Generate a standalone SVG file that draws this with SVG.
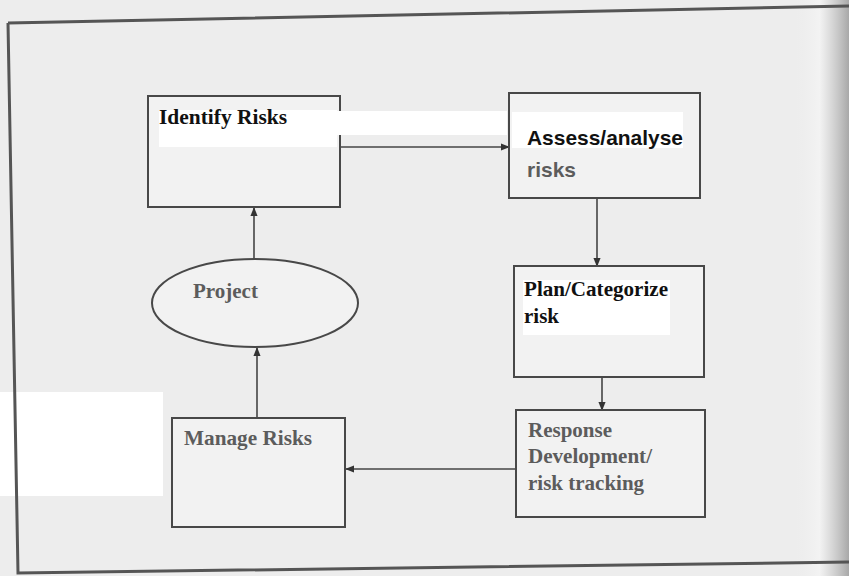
<svg xmlns="http://www.w3.org/2000/svg" width="849" height="576" viewBox="0 0 849 576">
<defs>
<linearGradient id="edge" x1="0" y1="0" x2="1" y2="0">
<stop offset="0" stop-color="#ececec" stop-opacity="0"/>
<stop offset="0.5" stop-color="#f4f4f4" stop-opacity="0.8"/>
<stop offset="1" stop-color="#a8a8a8" stop-opacity="1"/>
</linearGradient>
<marker id="ah" viewBox="0 0 10 10" refX="9" refY="5" markerWidth="9" markerHeight="9" markerUnits="userSpaceOnUse" orient="auto">
<path d="M0,1 L10,5 L0,9 Z" fill="#333"/>
</marker>
<style>
.box{fill:#f2f2f2;stroke:#484848;stroke-width:2}
.patch{fill:#ffffff}
.conn{stroke:#444;stroke-width:1.6;fill:none;marker-end:url(#ah)}
.tb{font-family:"Liberation Serif","Times New Roman",serif;font-weight:bold;font-size:21px}
.sb{font-family:"Liberation Sans",Arial,sans-serif;font-weight:bold;font-size:21px}
.blk{fill:#111}
.gry{fill:#5c5c5c}
</style>
</defs>
<rect x="0" y="0" width="849" height="576" fill="#ededed"/>
<rect x="790" y="0" width="59" height="576" fill="url(#edge)"/>
<rect x="0" y="392" width="163" height="104" fill="#ffffff"/>
<path d="M8,23 L849,6 M8,23 L18,573 L849,562" fill="none" stroke="#555" stroke-width="3"/>

<g id="connectors">
<line class="conn" x1="340" y1="147" x2="509" y2="147"/>
<line class="conn" x1="597" y1="198" x2="597" y2="266"/>
<line class="conn" x1="602" y1="377" x2="602" y2="410"/>
<line class="conn" x1="516" y1="469" x2="346" y2="469"/>
<line class="conn" x1="257" y1="418" x2="257" y2="348"/>
<line class="conn" x1="254" y1="259" x2="254" y2="208"/>
</g>

<g id="identify">
<rect class="box" x="148" y="96" width="192" height="111"/>
<rect class="patch" x="159" y="110" width="178" height="37"/>
<rect class="patch" x="337" y="111" width="170" height="24"/>
<text class="tb blk" x="159" y="124" textLength="128" lengthAdjust="spacingAndGlyphs">Identify Risks</text>
</g>

<g id="assess">
<rect class="box" x="509" y="93" width="191" height="105"/>
<rect class="patch" x="512" y="112" width="171" height="36"/>
<text class="sb blk" x="527" y="145" textLength="156" lengthAdjust="spacingAndGlyphs">Assess/analyse</text>
<text class="sb gry" x="527" y="177">risks</text>
</g>

<g id="plan">
<rect class="box" x="514" y="266" width="190" height="111"/>
<rect class="patch" x="523" y="280" width="147" height="55"/>
<text class="tb blk" x="524" y="296" textLength="144" lengthAdjust="spacingAndGlyphs">Plan/Categorize</text>
<text class="tb blk" x="524" y="323">risk</text>
</g>

<g id="response">
<rect class="box" x="516" y="410" width="189" height="107"/>
<text class="tb gry" x="528" y="437">Response</text>
<text class="tb gry" x="528" y="463" textLength="124" lengthAdjust="spacingAndGlyphs">Development/</text>
<text class="tb gry" x="528" y="490">risk tracking</text>
</g>

<g id="manage">
<rect class="box" x="172" y="418" width="173" height="109"/>
<text class="tb gry" x="184" y="445" textLength="128" lengthAdjust="spacingAndGlyphs">Manage Risks</text>
</g>

<g id="project">
<ellipse cx="255" cy="303" rx="103" ry="44" fill="#f2f2f2" stroke="#484848" stroke-width="2"/>
<text class="tb gry" x="193" y="298">Project</text>
</g>
</svg>
